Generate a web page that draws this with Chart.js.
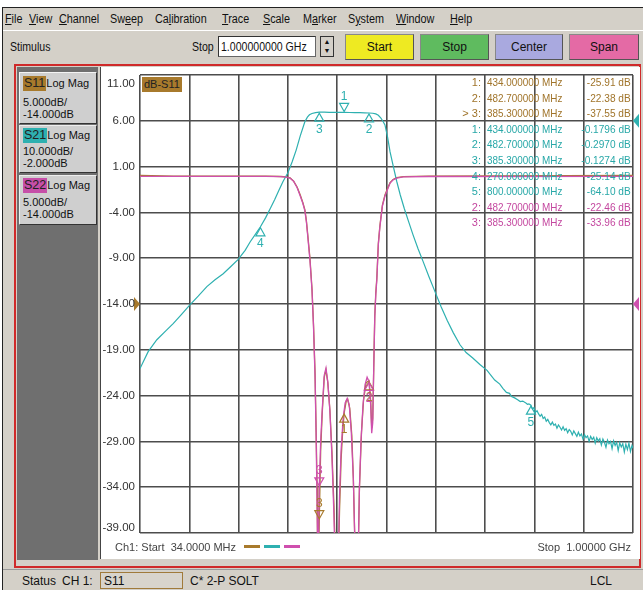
<!DOCTYPE html>
<html>
<head>
<meta charset="utf-8">
<script src="https://cdn.jsdelivr.net/npm/chart.js@4.4.1/dist/chart.umd.min.js"></script>
<style>
  html, body { margin: 0; padding: 0; }
  body { width: 643px; height: 590px; overflow: hidden; background: #fff; position: relative;
         font-family: "Liberation Sans", Arial, sans-serif; color: #111; }
  .abs { position: absolute; }
  .nar { display: inline-block; transform: scaleX(0.88); transform-origin: left center; white-space: nowrap; }
  #win { left: 2px; top: 7px; width: 641px; height: 583px; background: #d4d0c8;
         border-top: 1px solid #222; border-left: 1px solid #222; box-sizing: border-box; }
  .menu span { position: absolute; font-size: 12px; white-space: nowrap; transform: scaleX(0.9); transform-origin: left center; }
  .bar-label { font-size: 12px; white-space: nowrap; }
  .inp { background: #fff; border: 1px solid #666; border-top-color: #333; border-left-color: #333;
         font-size: 12px; box-sizing: border-box; padding: 3px 2px; white-space: nowrap; overflow: hidden; }
  .btn { font-size: 12px; text-align: center; box-sizing: border-box; border: 1px solid #888;
         border-right-color: #555; border-bottom-color: #555; }
  #chan { left: 14px; top: 64px; width: 627px; height: 504px; box-sizing: border-box;
          border: 2px solid #cf2a2a; background: #d4d0c8; }
  #side { left: 17px; top: 67px; width: 81px; height: 493px; background: #6f6f6f; }
  .trc { left: 19px; width: 78px; background: #cfcfcf; box-sizing: border-box;
         border: 1px solid #333; border-top-color: #eee; border-left-color: #eee; font-size: 11px; line-height: 12px; }
  .trc .t { position: absolute; left: 3px; white-space: nowrap; }
  .tag { display: inline-block; padding: 0 1px; color: #222; font-size: 12.5px; line-height: 15px; }
  #plotbox { left: 100px; top: 67px; width: 539px; height: 492px; background: #fff; border-left: 1px solid #444; }
  .mt { font-size: 11px; white-space: nowrap; line-height: 13px; }
  .foot { font-size: 11px; color: #444; white-space: nowrap; }
  #status { left: 3px; top: 569px; width: 640px; height: 21px; background: #d4d0c8; border-top: 1px solid #999; }
  .st { font-size: 12px; top: 574px; white-space: nowrap; }
</style>
</head>
<body>
<div id="win" class="abs"></div>

<!-- menu bar -->
<div class="abs menu" style="left:0;top:12px;width:643px;height:16px;">
  <span style="left:5px"><u>F</u>ile</span>
  <span style="left:29px"><u>V</u>iew</span>
  <span style="left:59px"><u>C</u>hannel</span>
  <span style="left:110px">Sw<u>e</u>ep</span>
  <span style="left:155px">Ca<u>l</u>ibration</span>
  <span style="left:222px"><u>T</u>race</span>
  <span style="left:263px"><u>S</u>cale</span>
  <span style="left:303px">M<u>a</u>rker</span>
  <span style="left:348px">S<u>y</u>stem</span>
  <span style="left:396px"><u>W</u>indow</span>
  <span style="left:450px"><u>H</u>elp</span>
</div>
<div class="abs" style="left:3px;top:30px;width:640px;height:1px;background:#fff;"></div>

<!-- stimulus toolbar -->
<div class="abs bar-label" style="left:10px;top:40px;"><span class="nar">Stimulus</span></div>
<div class="abs bar-label" style="left:192px;top:40px;"><span class="nar">Stop</span></div>
<div class="abs inp" style="left:218px;top:36px;width:98px;height:21px;"><span class="nar">1.000000000 GHz</span></div>
<div class="abs" style="left:320px;top:36px;width:14px;height:21px;background:#d4d0c8;border:1px solid #333;box-sizing:border-box;font-size:7px;line-height:9px;text-align:center;">&#9650;<br>&#9660;</div>
<div class="abs btn" style="left:345px;top:34px;width:69px;height:26px;line-height:24px;background:#eeea22;">Start</div>
<div class="abs btn" style="left:420px;top:34px;width:69px;height:26px;line-height:24px;background:#5fbb5f;">Stop</div>
<div class="abs btn" style="left:495px;top:34px;width:68px;height:26px;line-height:24px;background:#a9a9df;">Center</div>
<div class="abs btn" style="left:569px;top:34px;width:70px;height:26px;line-height:24px;background:#e46aa5;">Span</div>

<!-- channel window -->
<div id="chan" class="abs"></div>
<div id="side" class="abs"></div>

<div class="abs trc" style="top:72px;height:52px;border:1px solid #f4f4f4;border-right-color:#333;border-bottom-color:#333;">
  <div class="t" style="top:3px;"><span class="tag" style="background:#a87a2c;">S11</span>Log Mag</div>
  <div class="t" style="top:23px;">5.000dB/</div>
  <div class="t" style="top:35px;">-14.000dB</div>
</div>
<div class="abs trc" style="top:125px;height:48px;">
  <div class="t" style="top:2px;"><span class="tag" style="background:#2eb0b0;">S21</span>Log Mag</div>
  <div class="t" style="top:19px;">10.000dB/</div>
  <div class="t" style="top:31px;">-2.000dB</div>
</div>
<div class="abs trc" style="top:175px;height:50px;">
  <div class="t" style="top:2px;"><span class="tag" style="background:#c64fa8;">S22</span>Log Mag</div>
  <div class="t" style="top:20px;">5.000dB/</div>
  <div class="t" style="top:32px;">-14.000dB</div>
</div>

<div id="plotbox" class="abs">
  <canvas id="c" width="538" height="492"></canvas>
</div>

<div class="abs" style="left:142px;top:77px;height:15px;padding:0 2px;background:#a87a2c;font-size:11px;line-height:15px;color:#222;">dB-S11</div>

<!-- marker readout table -->
<div id="mtab" class="abs" style="left:418px;top:76px;width:214px;height:170px;"></div>

<!-- channel footer -->
<div class="abs foot" style="left:115px;top:541px;">Ch1: Start&nbsp; 34.0000 MHz</div>
<div class="abs" style="left:244px;top:545px;width:16px;height:3px;background:#a87a2c;"></div>
<div class="abs" style="left:264px;top:545px;width:16px;height:3px;background:#2eb0b0;"></div>
<div class="abs" style="left:284px;top:545px;width:16px;height:3px;background:#cf4fae;"></div>
<div class="abs foot" style="right:12px;top:541px;">Stop&nbsp; 1.00000 GHz</div>

<!-- status bar -->
<div id="status" class="abs"></div>
<div class="abs st" style="left:22px;">Status</div>
<div class="abs st" style="left:62px;">CH 1:</div>
<div class="abs" style="left:100px;top:572px;width:83px;height:17px;border:1px solid #a07a3a;box-sizing:border-box;background:#d8d4cc;"></div>
<div class="abs st" style="left:104px;">S11</div>
<div class="abs st" style="left:190px;">C* 2-P SOLT</div>
<div class="abs st" style="left:590px;">LCL</div>

<script>
// Sweep: 34 MHz .. 1 GHz
const startMHz = 34;
const stopMHz = 1000;

// Vertical scale labels (S11 / S22 format: 5 dB/div, ref -14 dB)
const yTickValues = [11, 6, 1, -4, -9, -14, -19, -24, -29, -34, -39];
const yTickLabels = ['11.00', '6.00', '1.00', '-4.00', '-9.00', '-14.00', '-19.00', '-24.00', '-29.00', '-34.00', '-39.00'];

// S21 transmission (dB) — 10 dB/div, ref -2 dB
const s21Freq = [34, 50, 67, 85, 99, 115, 130, 148, 165, 181, 197, 212, 226, 240, 250, 260, 270, 280, 290, 298,
  306, 314, 324, 332, 340, 348, 357, 362, 366, 371, 378, 385.3, 395, 405, 415, 425, 434, 445, 455, 465, 474, 482.7,
  490, 496, 501, 506, 510, 514, 519, 524, 530, 537, 544, 552, 560, 569, 579, 589, 600, 612, 624, 636, 648, 661,
  673, 686, 700, 714, 729, 739, 745, 752, 758, 762, 768, 774, 779, 784,
  790, 793, 796, 800, 803, 806, 809, 812, 815, 818, 821, 824, 827, 830, 833, 836, 839, 842, 845, 848,
  851, 854, 857, 860, 863, 866, 869, 872, 875, 878, 881, 884, 887, 890, 893, 896, 899, 902, 905, 908,
  911, 914, 917, 920, 923, 926, 929, 932, 935, 938, 941, 944, 947, 950, 953, 956, 959, 962, 965, 968,
  971, 974, 977, 980, 983, 986, 989, 992, 995, 998, 1000];
const s21Val = [-56.1, -52.4, -49.8, -47.8, -46.3, -44.3, -42.4, -40.3, -38.2, -36.7, -35.4, -33.8, -32.3, -30.3, -28.4,
  -26.8, -25.14, -23.2, -21.0, -19.2, -17.2, -15.3, -13.3, -11.0, -8.4, -5.3, -2.2, -1.2, -0.7, -0.4, -0.2, -0.1274,
  -0.12, -0.14, -0.15, -0.16, -0.1796, -0.19, -0.2, -0.22, -0.25, -0.297,
  -0.35, -0.5, -0.8, -1.4, -2.1, -2.9, -5.5, -8.8, -11.8, -15.2, -18.2, -21.2, -23.9, -26.9, -30.0, -32.8, -36.0,
  -39.3, -42.6, -45.6, -48.3, -50.9, -52.6, -53.8, -55.2, -56.5, -58.6, -59.5, -60.4, -61.3, -61.5, -62.2, -62.5,
  -62.9, -63.3, -63.2,
  -63.6, -63.9, -63.8, -64.10, -64.9, -64.6, -65.6, -65.3, -66.0, -66.5, -66.1, -67.0, -66.7, -67.6, -67.2, -67.9,
  -68.4, -67.8, -68.5, -68.2, -69.1, -68.4, -68.9, -69.5, -68.8, -69.6, -69.2, -70.1, -69.4, -69.8, -70.6, -69.7,
  -70.3, -70.9, -70.0, -70.8, -70.4, -71.5, -70.5, -71.2, -70.8, -72.0, -70.9, -71.6, -71.1, -72.4, -71.2, -71.9,
  -71.4, -72.8, -71.5, -72.2, -73.3, -71.7, -72.5, -72.0, -73.6, -71.9, -72.9, -72.2, -74.0, -72.3, -73.2, -72.5,
  -74.3, -72.6, -73.8, -72.4, -74.2, -72.9, -73.5];

// S22 output match (dB)
const s22Freq = [34, 100, 200, 280, 310, 320, 328, 335, 342, 348, 353, 357, 360, 363, 367, 371, 374, 377, 379, 381,
  383, 385.3, 388, 391, 395, 398.4, 402, 406, 410, 414, 417, 420, 422, 425, 428, 432, 436, 440, 444, 448, 452, 455,
  458, 461, 464, 467, 471, 475, 479, 482.7, 486, 488, 490, 492, 494, 496, 498, 501, 504, 509, 514, 519, 524, 530,
  537, 550, 600, 1000];
const s22Val = [-0.06, -0.06, -0.06, -0.07, -0.1, -0.14, -0.25, -0.6, -1.3, -2.2, -3.0, -3.8, -5.0, -6.8, -9.2,
  -12.5, -16.5, -22, -28, -36, -44, -33.96, -29, -25.6, -21.8, -21.0, -22.5, -25.6, -30.5, -37, -44, -48, -43, -35,
  -30, -26.5, -24.8, -24.3, -25.0, -28, -33, -40, -48, -43, -34, -29, -25, -22.8, -22.0, -22.46, -25, -28.1, -27,
  -21, -15.5, -13, -11.4, -7.5, -5.6, -3.3, -2.2, -1.5, -0.8, -0.45, -0.25, -0.12, -0.08, -0.06];

// S11 input match (dB)
const s11Freq = [34, 100, 200, 280, 310, 320, 328, 335, 342, 348, 353, 357, 360, 363, 367, 371, 374, 377, 379, 381,
  382.5, 384, 385.3, 388, 391, 395, 398.4, 402, 406, 410, 414, 417, 419.5, 422, 425, 428, 431, 434, 438, 441, 445,
  449, 452, 455, 458, 461, 464, 468, 472, 477, 482.7, 486, 488, 490, 492, 494, 496, 498, 501, 504, 509, 514, 519,
  524, 530, 537, 550, 600, 1000];
const s11Val = [0.05, -0.03, -0.04, -0.05, -0.08, -0.13, -0.24, -0.58, -1.25, -2.1, -2.9, -3.7, -4.9, -6.6, -9.0,
  -12.3, -16.3, -21.5, -27.5, -34, -45, -42, -37.55, -30, -26, -22, -21.2, -22.6, -25.5, -30, -36, -42, -49, -44,
  -36.5, -31, -28, -25.91, -24.6, -24.4, -25.4, -28.3, -33, -40, -48, -43, -34, -28, -24.5, -22.6, -22.38, -24.5,
  -27.5, -26.5, -21, -15.3, -12.8, -11.2, -7.4, -5.5, -3.2, -2.1, -1.4, -0.75, -0.4, -0.2, -0.09, -0.05, 0.03];

// Marker readouts
const s11MkNum = ['1', '2', '3'];
const s11MkFreq = [434.0, 482.7, 385.3];
const s11MkVal = [-25.91, -22.38, -37.55];
const s11MkText = ['-25.91 dB', '-22.38 dB', '-37.55 dB'];
const s11Active = '3';

const s21MkNum = ['1', '2', '3', '4', '5'];
const s21MkFreq = [434.0, 482.7, 385.3, 270.0, 800.0];
const s21MkVal = [-0.1796, -0.2970, -0.1274, -25.14, -64.10];
const s21MkText = ['-0.1796 dB', '-0.2970 dB', '-0.1274 dB', '-25.14 dB', '-64.10 dB'];
const s21Active = '1';

const s22MkNum = ['2', '3'];
const s22MkFreq = [482.7, 385.3];
const s22MkVal = [-22.46, -33.96];
const s22MkText = ['-22.46 dB', '-33.96 dB'];
const s22Active = '3';

const colS11 = '#a87a2c';
const colS21 = '#2eb0b0';
const colS22 = '#cf4fae';

const pts = (f, v) => f.map((x, i) => ({ x, y: v[i] }));

// readout table rows
const rows = [];
s11MkNum.forEach((n, i) => rows.push({ n: (n === s11Active ? '&gt; ' : '') + n + ':', f: s11MkFreq[i], t: s11MkText[i], c: '#a0742a' }));
s21MkNum.forEach((n, i) => rows.push({ n: n + ':', f: s21MkFreq[i], t: s21MkText[i], c: '#28a8a8' }));
s22MkNum.forEach((n, i) => rows.push({ n: n + ':', f: s22MkFreq[i], t: s22MkText[i], c: '#c4479f' }));
const mtab = document.getElementById('mtab');
rows.forEach((r, i) => {
  const top = i * 15.6;
  mtab.insertAdjacentHTML('beforeend',
    `<div class="abs mt" style="right:151px;top:${top}px;color:${r.c};">${r.n}</div>` +
    `<div class="abs mt" style="left:69px;top:${top}px;color:${r.c};transform:scaleX(0.9);transform-origin:left;">${r.f.toFixed(6)} MHz</div>` +
    `<div class="abs mt" style="right:1px;top:${top}px;color:${r.c};transform:scaleX(0.92);transform-origin:right;">${r.t}</div>`);
});

// Marker glyphs, reference arrows and scale labels
const overlay = {
  id: 'vnaOverlay',
  afterDatasetsDraw(chart) {
    const { ctx, chartArea: a, scales } = chart;
    const xs = scales.x;
    ctx.save();
    ctx.font = '12px "Liberation Sans", Arial, sans-serif';
    ctx.textAlign = 'center';
    ctx.textBaseline = 'middle';
    const mk = (nums, fr, vals, ys, col, active) => {
      nums.forEach((n, i) => {
        const px = xs.getPixelForValue(fr[i]);
        const py = ys.getPixelForValue(vals[i]);
        ctx.strokeStyle = col; ctx.fillStyle = col; ctx.lineWidth = 1.2;
        ctx.beginPath();
        if (n === active) {
          ctx.moveTo(px - 4.5, py - 9); ctx.lineTo(px + 4.5, py - 9); ctx.lineTo(px, py - 1); ctx.closePath();
          ctx.stroke();
          ctx.fillText(n, px, py - 16);
        } else {
          ctx.moveTo(px - 4.5, py + 9); ctx.lineTo(px + 4.5, py + 9); ctx.lineTo(px, py + 1); ctx.closePath();
          ctx.stroke();
          ctx.fillText(n, px, py + 17);
        }
      });
    };
    mk(s11MkNum, s11MkFreq, s11MkVal, scales.y, colS11, s11Active);
    mk(s21MkNum, s21MkFreq, s21MkVal, scales.y2, colS21, s21Active);
    mk(s22MkNum, s22MkFreq, s22MkVal, scales.y, colS22, s22Active);

    // reference position arrows
    const ry = scales.y.getPixelForValue(-14);
    const ry2 = scales.y2.getPixelForValue(-2);
    ctx.fillStyle = colS11;
    ctx.beginPath(); ctx.moveTo(a.left - 6, ry - 7); ctx.lineTo(a.left, ry); ctx.lineTo(a.left - 6, ry + 7); ctx.fill();
    ctx.fillStyle = colS22;
    ctx.beginPath(); ctx.moveTo(a.right + 6, ry - 7); ctx.lineTo(a.right, ry); ctx.lineTo(a.right + 6, ry + 7); ctx.fill();
    ctx.fillStyle = colS21;
    ctx.beginPath(); ctx.moveTo(a.right + 6, ry2 - 7); ctx.lineTo(a.right, ry2); ctx.lineTo(a.right + 6, ry2 + 7); ctx.fill();

    // scale labels
    ctx.fillStyle = '#333';
    ctx.textAlign = 'right';
    ctx.font = '11.5px "Liberation Sans", Arial, sans-serif';
    yTickValues.forEach((v, i) => {
      let py = scales.y.getPixelForValue(v);
      py = Math.max(a.top + 9, Math.min(a.bottom - 5, py));
      ctx.fillText(yTickLabels[i], a.left - 5, py);
    });
    ctx.restore();
  }
};

const gridStyle = { color: '#4d4d4d', lineWidth: 1.6, drawTicks: false };

new Chart(document.getElementById('c'), {
  type: 'line',
  data: {
    datasets: [
      { label: 'S22', data: pts(s22Freq, s22Val), yAxisID: 'y', borderColor: colS22, borderWidth: 1.3, order: 0 },
      { label: 'S21', data: pts(s21Freq, s21Val), yAxisID: 'y2', borderColor: colS21, borderWidth: 1.2, order: 1 },
      { label: 'S11', data: pts(s11Freq, s11Val), yAxisID: 'y', borderColor: colS11, borderWidth: 1.3, order: 2 }
    ]
  },
  options: {
    responsive: false,
    devicePixelRatio: 1,
    animation: false,
    elements: { point: { radius: 0 }, line: { tension: 0 } },
    layout: { padding: { left: 39, top: 8, right: 6, bottom: 26 } },
    plugins: { legend: { display: false }, tooltip: { enabled: false } },
    scales: {
      x: {
        type: 'linear', min: startMHz, max: stopMHz,
        grid: gridStyle, border: { display: false },
        ticks: { display: false },
        afterBuildTicks: s => { s.ticks = Array.from({ length: 11 }, (_, i) => ({ value: startMHz + i * (stopMHz - startMHz) / 10 })); },
        afterFit: s => { s.height = 0; }
      },
      y: {
        type: 'linear', min: -39, max: 11,
        grid: gridStyle, border: { display: false },
        ticks: { display: false },
        afterBuildTicks: s => { s.ticks = yTickValues.map(v => ({ value: v })); },
        afterFit: s => { s.width = 0; }
      },
      y2: { type: 'linear', min: -92, max: 8, display: false }
    }
  },
  plugins: [overlay]
});
</script>
</body>
</html>
